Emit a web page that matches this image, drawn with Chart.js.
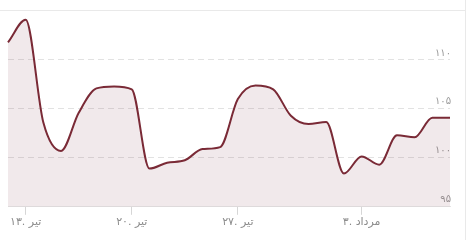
<!DOCTYPE html>
<html>
<head>
<meta charset="utf-8">
<script src="https://cdn.jsdelivr.net/npm/chart.js@4"></script>
<style>
  html, body { margin: 0; padding: 0; background: #fff; }
  #wrap { position: relative; width: 468px; height: 240px; overflow: hidden; }
  #topline { position: absolute; left: 0; top: 10px; width: 466px; height: 1px; background: #e9e9e9; }
  #rightline { position: absolute; left: 465px; top: 0; width: 1px; height: 240px; background: #e9e9e9; }
  canvas { position: absolute; left: 0; top: 0; }
</style>
</head>
<body>
<div id="wrap">
  <canvas id="c" width="468" height="240"></canvas>
  <div id="topline"></div>
  <div id="rightline"></div>
</div>
<script>
// ---- data ----
const categories = ['1','2','3','4','5','6','7','8','9','10','11','12','13',
                    '14','15','16','17','18','19','20','21','22','23','24','25','26'];
const values = [111.8, 114.1, 103.6, 100.7, 104.6, 107.1, 107.3, 107.0, 98.9, 99.5,
                99.75, 100.9, 101.1, 106.0, 107.4, 107.0, 104.3, 103.45, 103.66, 98.4,
                100.15, 99.3, 102.3, 102.1, 104.1, 104.1];
const xTickIndex = [1, 7, 13, 20];
const xTickLabels = ['۱۳. تیر', '۲۰. تیر', '۲۷. تیر', '۳. مرداد'];
const yTickValues = [95, 100, 105, 110];
const yTickLabels = ['۹۵', '۱۰۰', '۱۰۵', '۱۱۰'];
const yMin = 95, yMax = 115;

new Chart(document.getElementById('c'), {
  type: 'line',
  data: {
    labels: categories,
    datasets: [{
      data: values,
      borderColor: '#7a2a36',
      borderWidth: 2,
      backgroundColor: 'rgba(122,42,54,0.1)',
      fill: 'start',
      pointRadius: 0,
      cubicInterpolationMode: 'monotone'
    }]
  },
  options: {
    responsive: false,
    animation: false,
    events: [],
    layout: { padding: { left: 8, right: 16, top: 11, bottom: 10 } },
    plugins: { legend: { display: false }, tooltip: { enabled: false } },
    scales: {
      x: {
        offset: false,
        afterBuildTicks: (axis) => { axis.ticks = xTickIndex.map(v => ({ value: v })); },
        ticks: {
          autoSkip: false,
          maxRotation: 0,
          padding: 1,
          color: '#8c8c8c',
          font: { family: 'DejaVu Sans', size: 11 },
          callback: (v) => xTickLabels[xTickIndex.indexOf(v)]
        },
        grid: { display: true, drawOnChartArea: false, tickLength: 8, color: '#d6d6d6' },
        border: { display: true, color: '#e3e3e3' }
      },
      y: {
        position: 'right',
        min: yMin,
        max: yMax,
        afterBuildTicks: (axis) => { axis.ticks = yTickValues.map(v => ({ value: v })); },
        ticks: {
          mirror: true,
          padding: 1,
          labelOffset: -7,
          color: '#9a9a9a',
          font: { family: 'DejaVu Sans', size: 10 },
          callback: (v) => yTickLabels[yTickValues.indexOf(v)]
        },
        grid: {
          drawTicks: false,
          color: (ctx) => (ctx.tick && ctx.tick.value === yMin) ? 'rgba(0,0,0,0)' : '#e2e2e2'
        },
        border: { display: false, dash: [6, 4] }
      }
    }
  }
});
</script>
</body>
</html>
